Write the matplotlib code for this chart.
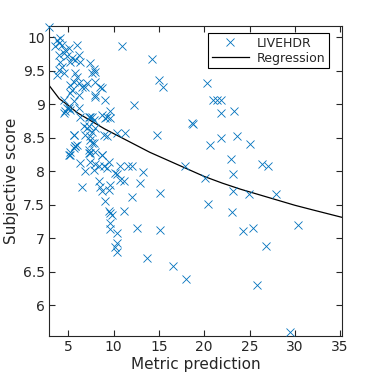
import matplotlib
matplotlib.use("Agg")
import matplotlib.pyplot as plt

# Scatter data (metric prediction, subjective score)
metric = [
    2.87, 3.75, 4.12, 3.93, 4.30, 3.57, 4.67, 5.03, 5.96, 4.48, 3.93, 4.85, 5.40, 5.20, 5.77,
    6.14, 6.32, 4.12, 4.30, 3.93, 4.48, 3.75, 5.77, 5.96, 5.58, 5.20, 6.14, 6.51, 6.87, 7.43,
    7.80, 7.60, 7.98, 8.53, 7.06, 7.98, 10.9, 14.2, 14.96, 15.5, 8.70, 7.98, 9.08, 12.2,
    5.58, 5.20, 4.85, 4.48, 4.48, 7.43, 7.80, 7.24, 5.58, 7.43, 7.60, 5.77, 5.20, 7.43, 8.70,
    10.4, 11.3, 14.8, 5.40, 5.20, 6.14, 7.98, 5.03, 4.67, 6.14, 6.32, 7.24, 7.60, 8.70, 9.26,
    9.08, 6.69, 7.06, 6.87, 7.60, 7.98, 8.90, 9.26, 5.58, 7.43, 7.80, 5.77, 7.24, 5.20, 7.98,
    9.60, 9.60, 5.03, 7.24, 8.70, 6.32, 7.43, 7.98, 8.34, 8.90, 9.26, 6.87, 7.80, 10.2, 6.51,
    8.34, 8.53, 8.70, 9.63, 9.44, 9.08, 9.63, 9.81, 10.7, 11.6, 12.0, 10.4, 10.7, 11.1, 13.2,
    12.9, 12.0, 15.1, 11.1, 9.44, 9.63, 9.63, 10.4, 12.6, 15.1, 10.4, 10.2, 10.4, 13.7, 16.6,
    20.3, 21.0, 21.4, 21.9, 21.9, 23.3, 18.6, 18.8, 20.6, 21.9, 23.6, 25.1, 23.0, 26.4, 27.0,
    17.9, 23.2, 20.1, 23.2, 24.9, 27.9, 20.4, 23.1, 24.3, 25.4, 30.4, 26.8, 18.0, 25.8, 29.5,
    5.58, 5.96, 9.44,
]
score = [
    10.15, 9.96, 9.98, 9.91, 9.88, 9.86, 9.81, 9.83, 9.88, 9.76, 9.73, 9.71, 9.68, 9.63, 9.66,
    9.73, 9.63, 9.63, 9.56, 9.51, 9.46, 9.43, 9.46, 9.41, 9.33, 9.29, 9.31, 9.26, 9.26, 9.61,
    9.53, 9.46, 9.48, 9.26, 9.31, 9.33, 9.87, 9.67, 9.36, 9.26, 9.24, 9.14, 9.06, 8.99,
    9.04, 8.91, 8.94, 8.86, 9.06, 8.81, 8.76, 8.67, 8.54, 8.52, 8.42, 8.37, 8.24, 8.27, 8.24,
    8.57, 8.57, 8.54, 9.21, 9.16, 9.14, 9.11, 8.94, 8.89, 8.94, 8.81, 8.81, 8.81, 8.84, 8.81,
    8.79, 8.67, 8.64, 8.54, 8.59, 8.64, 8.54, 8.52, 8.54, 8.47, 8.42, 8.37, 8.32, 8.29, 8.29,
    8.90, 8.79, 8.24, 8.27, 8.24, 8.12, 8.14, 8.10, 8.07, 8.07, 8.05, 8.00, 8.02, 7.97, 7.77,
    7.85, 7.77, 7.70, 7.80, 7.72, 7.55, 7.38, 7.35, 8.07, 8.07, 8.07, 7.95, 7.87, 7.85, 7.98,
    7.82, 7.62, 7.67, 7.40, 7.40, 7.23, 7.13, 7.08, 7.15, 7.12, 6.93, 6.87, 6.80, 6.71, 6.58,
    9.31, 9.06, 9.06, 9.06, 8.86, 8.90, 8.72, 8.70, 8.39, 8.49, 8.53, 8.41, 8.18, 8.11, 8.07,
    8.07, 7.95, 7.89, 7.71, 7.66, 7.66, 7.51, 7.39, 7.10, 7.15, 7.20, 6.89, 6.39, 6.30, 5.60,
    8.34, 8.39, 8.14,
]

# Regression curve
reg_x = [2.87, 4, 5, 6, 7, 8, 9, 10, 12, 14, 16, 18, 20, 22, 24, 26, 28, 30, 32, 35.2]
reg_y = [9.28, 9.08, 8.98, 8.87, 8.79, 8.71, 8.63, 8.56, 8.42, 8.28, 8.16, 8.04, 7.92,
         7.82, 7.73, 7.65, 7.57, 7.49, 7.42, 7.31]

xticks = [5, 10, 15, 20, 25, 30, 35]
yticks = [6, 6.5, 7, 7.5, 8, 8.5, 9, 9.5, 10]

plt.rcParams['font.family'] = ['DejaVu Sans']
fig = plt.figure(figsize=(3.78, 3.78), dpi=100)
ax = fig.add_axes([49/378, 42/378, 293/378, 309.5/378])

ax.plot(metric, score, linestyle='none', marker='x', color='#0072BD',
        markersize=5.5, markeredgewidth=0.6, label='LIVEHDR', clip_on=False, zorder=3)
ax.plot(reg_x, reg_y, color='black', linewidth=0.9, label='Regression', zorder=2)

ax.set_xlim(2.87, 35.2)
ax.set_ylim(5.54, 10.157)
ax.set_xticks(xticks)
ax.set_xticklabels([str(t) for t in xticks])
ax.set_yticks(yticks)
ax.set_yticklabels([('%g' % t) for t in yticks])

dark = '#262626'
for s in ax.spines.values():
    s.set_color(dark)
    s.set_linewidth(0.8)
ax.tick_params(direction='in', top=True, right=True, length=4, width=0.8,
               labelsize=10, colors=dark, pad=3)
ax.set_xlabel('Metric prediction', fontsize=11, color=dark, labelpad=2)
ax.set_ylabel('Subjective score', fontsize=11, color=dark, labelpad=3)

leg = ax.legend(loc='upper right', fontsize=9, frameon=True, fancybox=False,
                edgecolor='black', framealpha=1, borderpad=0.3, handlelength=3.0,
                handletextpad=0.6, labelspacing=0.15, borderaxespad=0,
                bbox_to_anchor=(329/378, 1 - 33/378), bbox_transform=fig.transFigure)
leg.get_frame().set_linewidth(0.8)
for t in leg.get_texts():
    t.set_color(dark)

fig.savefig('out.png', dpi=100)
